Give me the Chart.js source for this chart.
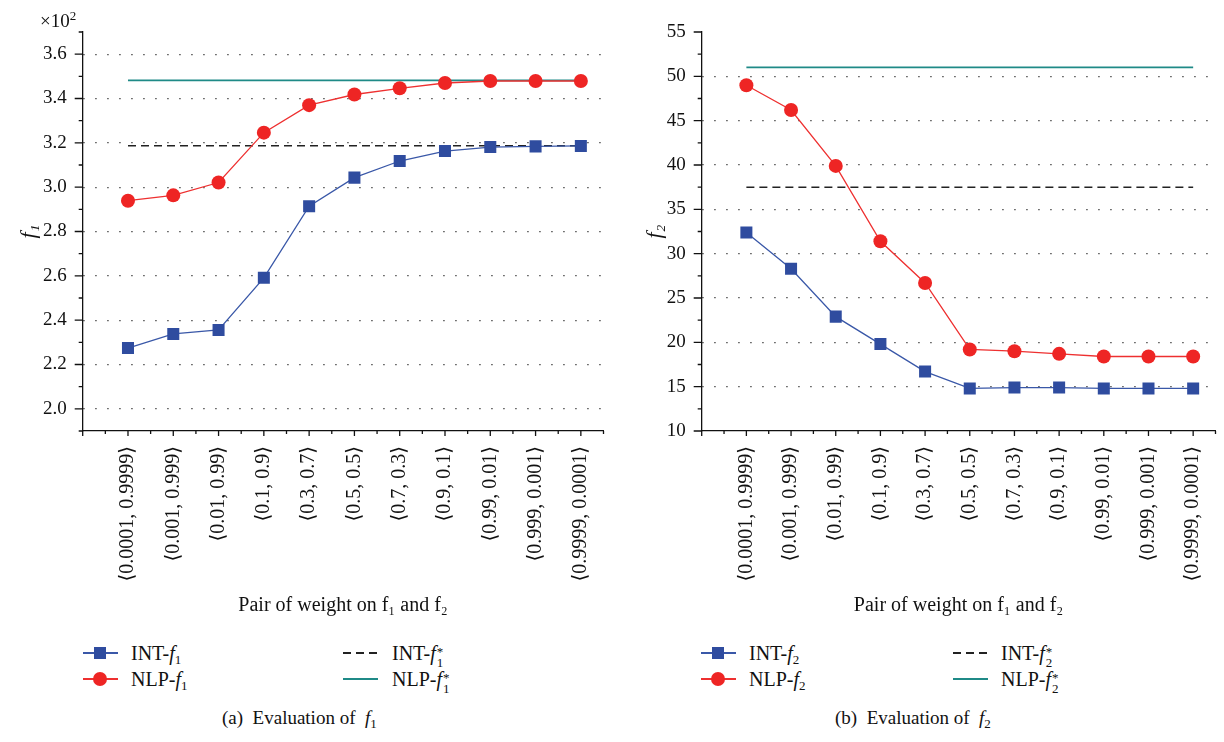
<!DOCTYPE html>
<html>
<head>
<meta charset="utf-8">
<script src="https://cdn.jsdelivr.net/npm/chart.js@4/dist/chart.umd.min.js"></script>
<style>
  body { margin: 0; background: #fff; }
  #page { position: relative; width: 1224px; height: 742px; font-family: "Liberation Serif", "DejaVu Serif", serif; color: #111; }
  canvas { position: absolute; top: 0; }
  .txt { position: absolute; font-size: 20px; line-height: 22px; white-space: nowrap; }
  .cap { font-size: 19px; }
  .txt sub { font-size: 13px; vertical-align: -4px; line-height: 0; }
  .st { display: inline-block; vertical-align: -7px; font-size: 13px; line-height: 11px; margin-left: 1px; }
  .st span { display: block; }
  .mk { position: absolute; width: 35px; height: 12px; }
  .mk .ln { position: absolute; left: 0; right: 0; top: 5px; height: 1.5px; }
  .mk .sq { position: absolute; left: 11px; top: 0; width: 12px; height: 12px; background: #2f4c9f; }
  .mk .ci { position: absolute; left: 10px; top: -1px; width: 14px; height: 14px; border-radius: 50%; background: #ee2524; }
  .mk .da { position: absolute; left: 0; right: 0; top: 5px; height: 1.5px;
    background: repeating-linear-gradient(to right, #222 0 8px, transparent 8px 13px); }
</style>
</head>
<body>
<div id="page">
  <canvas id="chart-f1" width="612" height="625" style="left:0"></canvas>
  <canvas id="chart-f2" width="612" height="625" style="left:612px"></canvas>

  <div class="txt" style="left:40px;top:5px;font-size:19px">×10<sup style="font-size:13px">2</sup></div>

  <!-- legend (a) -->
  <div class="mk" style="left:83px;top:647px"><span class="ln" style="background:#3a58a8"></span><span class="sq"></span></div>
  <div class="txt" style="left:131px;top:642px">INT-<i>f</i><sub>1</sub></div>
  <div class="mk" style="left:83px;top:673px"><span class="ln" style="background:#ee3030"></span><span class="ci"></span></div>
  <div class="txt" style="left:131px;top:668px">NLP-<i>f</i><sub>1</sub></div>
  <div class="mk" style="left:343px;top:647px"><span class="da"></span></div>
  <div class="txt" style="left:392px;top:642px">INT-<i>f</i><span class="st"><span>*</span><span>1</span></span></div>
  <div class="mk" style="left:343px;top:673px"><span class="ln" style="background:#1f8a87"></span></div>
  <div class="txt" style="left:392px;top:668px">NLP-<i>f</i><span class="st"><span>*</span><span>1</span></span></div>
  <div class="txt cap" style="left:222px;top:707px">(a)&nbsp; Evaluation of&nbsp; <i>f</i><sub>1</sub></div>

  <!-- legend (b) -->
  <div class="mk" style="left:701px;top:647px"><span class="ln" style="background:#3a58a8"></span><span class="sq"></span></div>
  <div class="txt" style="left:749px;top:642px">INT-<i>f</i><sub>2</sub></div>
  <div class="mk" style="left:701px;top:673px"><span class="ln" style="background:#ee3030"></span><span class="ci"></span></div>
  <div class="txt" style="left:749px;top:668px">NLP-<i>f</i><sub>2</sub></div>
  <div class="mk" style="left:953px;top:647px"><span class="da"></span></div>
  <div class="txt" style="left:1001px;top:642px">INT-<i>f</i><span class="st"><span>*</span><span>2</span></span></div>
  <div class="mk" style="left:953px;top:673px"><span class="ln" style="background:#1f8a87"></span></div>
  <div class="txt" style="left:1001px;top:668px">NLP-<i>f</i><span class="st"><span>*</span><span>2</span></span></div>
  <div class="txt cap" style="left:835px;top:707px">(b)&nbsp; Evaluation of&nbsp; <i>f</i><sub>2</sub></div>
</div>

<script>
// weight pairs (w1, w2)
const pairs = [
  "⟨0.0001, 0.9999⟩", "⟨0.001, 0.999⟩", "⟨0.01, 0.99⟩", "⟨0.1, 0.9⟩",
  "⟨0.3, 0.7⟩", "⟨0.5, 0.5⟩", "⟨0.7, 0.3⟩", "⟨0.9, 0.1⟩",
  "⟨0.99, 0.01⟩", "⟨0.999, 0.001⟩", "⟨0.9999, 0.0001⟩"
];

// f1 values (actual, axis shows x10^2)
const intF1 = [227.4, 233.8, 235.6, 259.1, 291.4, 304.3, 311.8, 316.3, 318.1, 318.4, 318.6];
const nlpF1 = [293.9, 296.3, 302.1, 324.6, 337.0, 341.8, 344.6, 347.0, 347.9, 347.9, 347.9];
const intF1Star = 318.7;
const nlpF1Star = 348.2;

// f2 values
const intF2 = [32.4, 28.3, 22.9, 19.8, 16.7, 14.8, 14.9, 14.9, 14.8, 14.8, 14.8];
const nlpF2 = [49.0, 46.2, 39.9, 31.4, 26.7, 19.2, 19.0, 18.7, 18.4, 18.4, 18.4];
const intF2Star = 37.5;
const nlpF2Star = 51.0;

const FONT = "'Liberation Serif', 'DejaVu Serif', serif";
const BLUE = "#2f4c9f", BLUE_LINE = "#3a58a8";
const RED = "#ee2524", RED_LINE = "#ee3030";
const TEAL = "#1f8a87";

const toXY = arr => arr.map((v, i) => ({ x: i, y: v }));
const flat = v => [{ x: 0, y: v }, { x: pairs.length - 1, y: v }];

// short/long tick marks drawn outward like the original axes
const tickMarks = {
  id: "tickMarks",
  afterDraw(chart) {
    const c = chart.ctx, xs = chart.scales.x, ys = chart.scales.y;
    c.save();
    c.strokeStyle = "#111";
    c.lineWidth = 1.3;
    c.beginPath();
    xs.ticks.forEach(t => {
      const p = xs.getPixelForValue(t.value);
      const l = Number.isInteger(t.value) ? 5 : 3;
      c.moveTo(p, xs.top);
      c.lineTo(p, xs.top + l);
    });
    ys.ticks.forEach(t => {
      const p = ys.getPixelForValue(t.value);
      const l = t.label ? 8 : 4;
      c.moveTo(ys.right, p);
      c.lineTo(ys.right - l, p);
    });
    c.stroke();
    c.restore();
  }
};

function makeChart(id, cfg) {
  return new Chart(document.getElementById(id).getContext("2d"), {
    type: "line",
    data: {
      datasets: [
        { label: cfg.names[0], data: toXY(cfg.int), borderColor: BLUE_LINE, backgroundColor: BLUE,
          borderWidth: 1.3, pointStyle: "rect", pointRadius: 8.5, pointBorderWidth: 0, pointBackgroundColor: BLUE },
        { label: cfg.names[1], data: toXY(cfg.nlp), borderColor: RED_LINE, backgroundColor: RED,
          borderWidth: 1.3, pointStyle: "circle", pointRadius: 7, pointBorderWidth: 0, pointBackgroundColor: RED },
        { label: cfg.names[2], data: flat(cfg.intStar), borderColor: "#222", borderWidth: 1.5,
          borderDash: [8, 5], pointRadius: 0 },
        { label: cfg.names[3], data: flat(cfg.nlpStar), borderColor: TEAL, borderWidth: 1.8, pointRadius: 0 }
      ]
    },
    options: {
      responsive: false,
      animation: false,
      layout: { padding: { left: 0, top: 32, right: cfg.padRight, bottom: 4 } },
      plugins: { legend: { display: false }, tooltip: { enabled: false } },
      scales: {
        x: {
          type: "linear", min: -1, max: 10.5,
          border: { display: true, color: "#111", width: 1.3 },
          grid: { drawOnChartArea: false, drawTicks: false },
          ticks: {
            stepSize: 0.5, autoSkip: false, minRotation: 90, maxRotation: 90, padding: 15,
            color: "#111", font: { family: FONT, size: 20 },
            callback: v => (Number.isInteger(v) && v >= 0 && v < pairs.length) ? pairs[v] : ""
          },
          title: { display: true, text: cfg.xTitle, color: "#111", font: { family: FONT, size: 20 },
            padding: { top: 0, bottom: 3 } },
          afterFit: s => { s.height = 190; s.paddingLeft = 0; s.paddingRight = 0; }
        },
        y: {
          min: cfg.min, max: cfg.max,
          border: { display: true, color: "#111", width: 1.3, dash: [1.3, 10.7] },
          grid: {
            drawTicks: false, lineWidth: 1.3,
            color: c => cfg.isGrid(c.tick.value) ? "#333" : "rgba(0,0,0,0)"
          },
          ticks: {
            stepSize: cfg.step, autoSkip: false, padding: 16, color: "#111",
            font: { family: FONT, size: 19 },
            callback: cfg.fmt
          },
          title: { display: true, text: cfg.yTitle, color: "#111",
            font: { family: FONT, size: 22, style: "italic" }, padding: { top: cfg.titlePad, bottom: 0 } },
          afterFit: s => { s.width = cfg.yWidth; s.paddingTop = 0; s.paddingBottom = 0; }
        }
      }
    },
    plugins: [tickMarks]
  });
}

function drawAll() {
  makeChart("chart-f1", {
    names: ["INT-f₁", "NLP-f₁", "INT-f₁*", "NLP-f₁*"],
    int: intF1, nlp: nlpF1, intStar: intF1Star, nlpStar: nlpF1Star,
    min: 190, max: 370, step: 10,
    fmt: v => { const r = Math.round(v); return (r % 20 === 0 && r >= 200 && r <= 360) ? (r / 100).toFixed(1) : ""; },
    isGrid: v => { const r = Math.round(v); return r % 20 === 0 && r >= 200 && r <= 360; },
    xTitle: "Pair of weight on f₁ and f₂", yTitle: "f₁",
    yWidth: 82.7, padRight: 7.7, titlePad: 16
  });

  makeChart("chart-f2", {
    names: ["INT-f₂", "NLP-f₂", "INT-f₂*", "NLP-f₂*"],
    int: intF2, nlp: nlpF2, intStar: intF2Star, nlpStar: nlpF2Star,
    min: 10, max: 55, step: 2.5,
    fmt: v => (v % 5 === 0) ? String(v) : "",
    isGrid: v => v % 5 === 0 && v > 10 && v < 55,
    xTitle: "Pair of weight on f₁ and f₂", yTitle: "f₂",
    yWidth: 89.7, padRight: 4.8, titlePad: 30
  });
}

document.fonts.load("20px 'Liberation Serif'").then(drawAll, drawAll);
</script>
</body>
</html>
